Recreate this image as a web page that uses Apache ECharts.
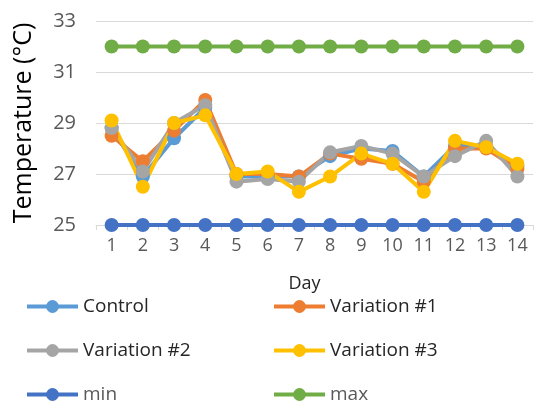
<!DOCTYPE html>
<html>
<head>
<meta charset="utf-8">
<script src="https://cdn.jsdelivr.net/npm/echarts@6/dist/echarts.min.js"></script>
<style>
    html, body { margin: 0; padding: 0; background: #fff; }
    #chart { width: 534px; height: 402px; }
</style>
</head>
<body>
<div id="chart"></div>
<script>
var days = ['1', '2', '3', '4', '5', '6', '7', '8', '9', '10', '11', '12', '13', '14'];
var control = [28.8, 26.9, 28.4, 29.6, 26.9, 26.9, 26.9, 27.7, 28.0, 27.9, 26.9, 28.1, 28.1, 27.3];
var variation1 = [28.5, 27.5, 28.7, 29.9, 27.0, 27.0, 26.9, 27.8, 27.6, 27.4, 26.7, 28.0, 28.0, 27.2];
var variation2 = [28.8, 27.1, 29.0, 29.7, 26.7, 26.8, 26.7, 27.85, 28.1, 27.8, 26.9, 27.7, 28.3, 26.9];
var variation3 = [29.1, 26.5, 29.0, 29.3, 27.0, 27.1, 26.3, 26.9, 27.8, 27.4, 26.3, 28.3, 28.05, 27.4];
var minTemp = [25, 25, 25, 25, 25, 25, 25, 25, 25, 25, 25, 25, 25, 25];
var maxTemp = [32, 32, 32, 32, 32, 32, 32, 32, 32, 32, 32, 32, 32, 32];

var font = 'Open Sans';

function makeSeries(name, data, color) {
    return {
        name: name,
        type: 'line',
        data: data,
        symbol: 'circle',
        symbolSize: 14,
        itemStyle: { color: color },
        lineStyle: { color: color, width: 4 },
        emphasis: { disabled: true },
        animation: false
    };
}

// one legend per item so the two columns line up
function makeLegend(name, left, top, textColor) {
    return {
        data: [name],
        left: left,
        top: top,
        itemWidth: 51,
        itemHeight: 16,
        itemGap: 4,
        lineStyle: { width: 4 },
        textStyle: { fontFamily: font, fontSize: 19, color: textColor || '#262626' },
        selectedMode: false
    };
}

var option = {
    backgroundColor: '#fff',
    grid: { left: 96, right: 1, top: 21, bottom: 177 },
    legend: [
        makeLegend('Control', 20, 292),
        makeLegend('Variation #1', 267, 292),
        makeLegend('Variation #2', 20, 336),
        makeLegend('Variation #3', 267, 336),
        makeLegend('min', 20, 380, '#595959'),
        makeLegend('max', 267, 380, '#595959')
    ],
    xAxis: {
        type: 'category',
        data: days,
        name: 'Day',
        nameLocation: 'middle',
        nameGap: 50,
        nameTextStyle: { fontFamily: font, fontSize: 18, color: '#262626', padding: [0, 20, 0, 0] },
        axisLine: { lineStyle: { color: '#d9d9d9', width: 1 } },
        axisTick: { show: true, length: 5, lineStyle: { color: '#d9d9d9' } },
        axisLabel: { fontFamily: font, fontSize: 18, color: '#595959', margin: 12 }
    },
    yAxis: {
        type: 'value',
        min: 25,
        max: 33,
        interval: 2,
        name: 'Temperature (°C)',
        nameLocation: 'middle',
        nameGap: 60,
        nameTextStyle: { fontFamily: font, fontSize: 25, color: '#000' },
        axisLine: { show: false },
        axisTick: { show: false },
        axisLabel: { fontFamily: font, fontSize: 20, color: '#595959', margin: 20 },
        splitLine: { lineStyle: { color: '#d9d9d9', width: 1 } }
    },
    series: [
        makeSeries('min', minTemp, '#4472C4'),
        makeSeries('max', maxTemp, '#70AD47'),
        makeSeries('Control', control, '#5B9BD5'),
        makeSeries('Variation #1', variation1, '#ED7D31'),
        makeSeries('Variation #2', variation2, '#A5A5A5'),
        makeSeries('Variation #3', variation3, '#FFC000')
    ]
};

var myChart = echarts.init(document.getElementById('chart'));
myChart.setOption(option);
</script>
</body>
</html>
